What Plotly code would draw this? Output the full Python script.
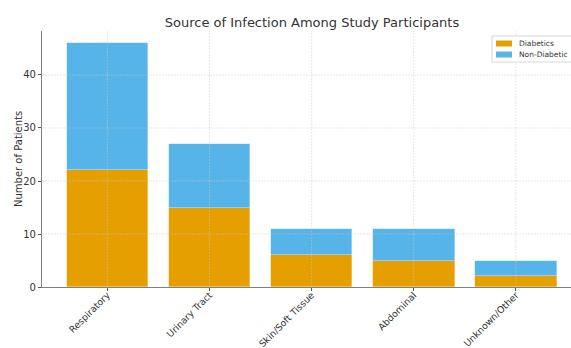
import plotly.graph_objects as go

categories = ["Respiratory", "Urinary Tract", "Skin/Soft Tissue", "Abdominal", "Unknown/Other"]
diabetics = [22, 15, 6, 5, 2]
non_diabetic = [24, 12, 5, 6, 3]
y_ticks = [0, 10, 20, 30, 40]
series_names = ["Diabetics", "Non-Diabetic"]
series_colors = ["#E69F00", "#56B4E9"]

W, H = 571, 348
L, R, T, B = 42, 0, 31, 61
PW, PH = W - L - R, H - T - B

x_idx = list(range(len(categories)))
totals = [a + b for a, b in zip(diabetics, non_diabetic)]
y_max = max(totals) * 1.05

fig = go.Figure()
fig.add_trace(go.Bar(
    x=x_idx, y=diabetics, name=series_names[0], width=0.8,
    marker=dict(color=series_colors[0], line=dict(color="rgba(255,215,140,0.7)", width=0.8)),
))
fig.add_trace(go.Bar(
    x=x_idx, y=non_diabetic, name=series_names[1], width=0.8,
    marker=dict(color=series_colors[1], line=dict(color="rgba(190,230,255,0.7)", width=0.8)),
))

# fine dashed grid drawn over the bars
grid_style = dict(color="rgba(200,200,200,0.55)", width=0.8, dash="2px,1px")
shapes = []
for i in x_idx:
    shapes.append(dict(type="line", xref="x", yref="paper", x0=i, x1=i, y0=0, y1=1,
                       line=grid_style, layer="above"))
for t in y_ticks[1:]:
    shapes.append(dict(type="line", xref="paper", yref="y", x0=0, x1=1, y0=t, y1=t,
                       line=grid_style, layer="above"))


def pxx(p):
    # pixel x -> plot-area paper fraction
    return (p - L) / PW


def pxy(p):
    # pixel y (from top) -> plot-area paper fraction
    return (H - B - p) / PH


annotations = []

# compact legend box in the upper right corner
shapes.append(dict(type="rect", xref="paper", yref="paper",
                   x0=pxx(492), x1=1.02, y0=pxy(62), y1=pxy(36),
                   fillcolor="white", line=dict(color="#d6d6d6", width=1),
                   layer="above"))
for k, (name, col) in enumerate(zip(series_names, series_colors)):
    cy = 43.5 + k * 11
    shapes.append(dict(type="rect", xref="paper", yref="paper",
                       x0=pxx(496), x1=pxx(512), y0=pxy(cy + 3), y1=pxy(cy - 3),
                       fillcolor=col, line=dict(width=0), layer="above"))
    annotations.append(dict(text=name, xref="paper", yref="paper",
                            x=pxx(517), y=pxy(cy), xanchor="left", yanchor="middle",
                            showarrow=False, font=dict(size=7.5, color="#333333")))

# y-axis title
annotations.append(dict(text="Number of Patients", xref="paper", yref="paper",
                        x=pxx(18), y=0.5, xanchor="center", yanchor="middle",
                        textangle=-90, showarrow=False,
                        font=dict(size=10, color="#333333")))

fig.update_layout(
    width=W, height=H,
    margin=dict(l=L, r=R, t=T, b=B, autoexpand=False),
    barmode="stack",
    bargap=0,
    showlegend=False,
    plot_bgcolor="white",
    paper_bgcolor="white",
    font=dict(family="DejaVu Sans", color="#333333", size=10),
    title=dict(text="Source of Infection Among Study Participants",
               x=312 / W, xanchor="center", y=1 - 22 / H, yanchor="middle",
               font=dict(size=13, color="#333333")),
    shapes=shapes,
    annotations=annotations,
)
fig.update_xaxes(
    range=[-0.64, 4.54], automargin=False,
    tickmode="array", tickvals=x_idx, ticktext=categories, tickangle=-45,
    showgrid=False, zeroline=False,
    showline=True, linecolor="#808080", linewidth=1.2,
    ticks="outside", ticklen=3, tickcolor="#555555",
    ticklabelstandoff=-5,
    tickfont=dict(size=9.3, color="#333333"),
)
fig.update_yaxes(
    range=[0, y_max], automargin=False,
    tickmode="array", tickvals=y_ticks,
    showgrid=False, zeroline=False,
    showline=True, linecolor="#808080", linewidth=1.2,
    ticks="outside", ticklen=3, tickcolor="#555555",
    tickfont=dict(size=10, color="#333333"),
)

fig.write_html("out.html")
